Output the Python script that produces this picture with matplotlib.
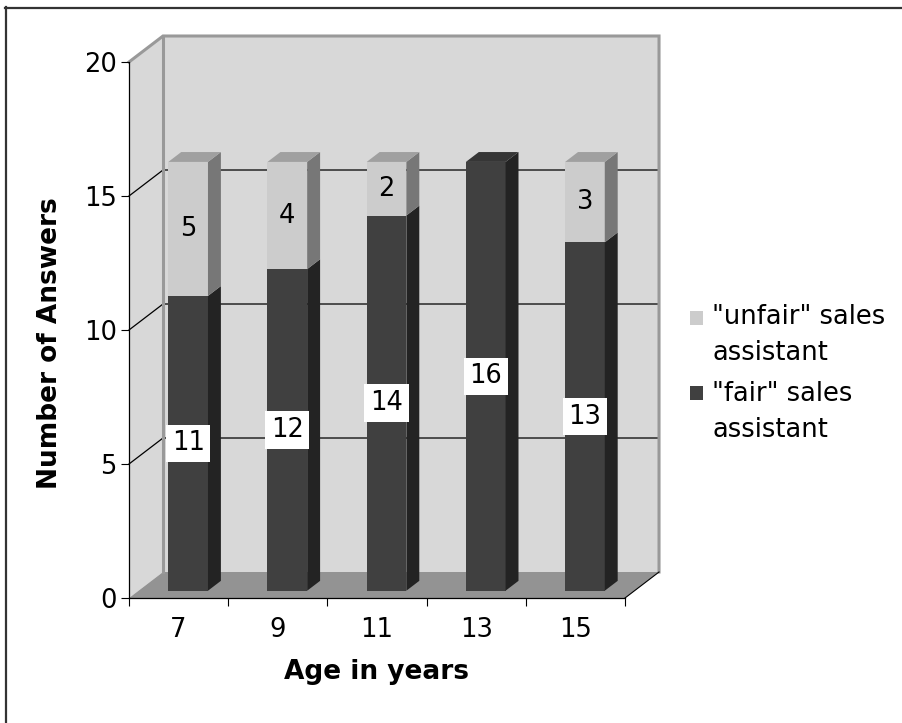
import numpy as np
import matplotlib.pyplot as plt
from matplotlib.patches import Polygon, Rectangle
from matplotlib.lines import Line2D

# answers per age group
ages = ['7', '9', '11', '13', '15']
fair = [11, 12, 14, 16, 13]
unfair = [5, 4, 2, 0, 3]
y_ticks = [0, 5, 10, 15, 20]
series_labels = ['"unfair" sales\nassistant', '"fair" sales\nassistant']

# depth of the 3-D box in data units, bar depth as a fraction of it
DX, DY = 0.343, 0.97
F0, F1 = 0.28, 0.66
HALF = 0.2

WALL = '#d8d8d8'
WALL_EDGE = '#999999'
FLOOR = '#939393'
# front, top, side
FAIR_C = ('#404040', '#363636', '#232323')
UNFAIR_C = ('#cccccc', '#a0a0a0', '#777777')
FS = 18.5

fig = plt.figure(figsize=(9.02, 7.23), dpi=100)
ax = fig.add_axes([129 / 902, 125 / 723, 496 / 902, 536 / 723])
ax.patch.set_visible(False)

n = len(ages)
x = np.arange(n)
x0, x1 = -0.5, n - 0.5
ymax = y_ticks[-1]
ax.set_xlim(x0, x1)
ax.set_ylim(0, ymax)

# walls and floor
back = Polygon([(x0 + DX, DY), (x1 + DX, DY), (x1 + DX, ymax + DY), (x0 + DX, ymax + DY)],
               fc=WALL, ec='none', clip_on=False, zorder=0.5)
side = Polygon([(x0, 0), (x0 + DX, DY), (x0 + DX, ymax + DY), (x0, ymax)],
               fc=WALL, ec='none', clip_on=False, zorder=0.5)
floor = Polygon([(x0, 0), (x1, 0), (x1 + DX, DY), (x0 + DX, DY)],
                fc=FLOOR, ec='none', clip_on=False, zorder=0.6)
for p in (back, side, floor):
    ax.add_patch(p)

# gridlines on side and back wall
for v in y_ticks[1:-1]:
    ax.plot([x0, x0 + DX, x1 + DX], [v, v + DY, v + DY], color='black', lw=0.9,
            clip_on=False, zorder=0.8)

# wall borders
ax.plot([x0, x0 + DX, x1 + DX, x1 + DX], [ymax, ymax + DY, ymax + DY, DY],
        color=WALL_EDGE, lw=2.2, clip_on=False, zorder=0.9, solid_joinstyle='miter')
ax.plot([x0 + DX, x0 + DX], [DY, ymax + DY], color=WALL_EDGE, lw=2.2,
        clip_on=False, zorder=0.9)
ax.plot([x1, x1 + DX], [0, DY], color='black', lw=0.8, clip_on=False, zorder=0.9)

# bars: front faces with ax.bar, sides and tops as polygons
xf = x + F0 * DX
fair = np.array(fair)
unfair = np.array(unfair)
ax.bar(xf, fair, width=2 * HALF, bottom=F0 * DY, color=FAIR_C[0], zorder=3)
ax.bar(xf, unfair, width=2 * HALF, bottom=F0 * DY + fair, color=UNFAIR_C[0], zorder=3)


def side_face(xr, y0, y1, color):
    pts = [(xr + F0 * DX, F0 * DY + y0), (xr + F1 * DX, F1 * DY + y0),
           (xr + F1 * DX, F1 * DY + y1), (xr + F0 * DX, F0 * DY + y1)]
    ax.add_patch(Polygon(pts, fc=color, ec='none', zorder=3))


def top_face(xc, top, color):
    pts = [(xc - HALF + F0 * DX, F0 * DY + top), (xc + HALF + F0 * DX, F0 * DY + top),
           (xc + HALF + F1 * DX, F1 * DY + top), (xc - HALF + F1 * DX, F1 * DY + top)]
    ax.add_patch(Polygon(pts, fc=color, ec='none', zorder=3))


for i in range(n):
    side_face(x[i] + HALF, 0, fair[i], FAIR_C[2])
    if unfair[i] > 0:
        side_face(x[i] + HALF, fair[i], fair[i] + unfair[i], UNFAIR_C[2])
        top_face(x[i], fair[i] + unfair[i], UNFAIR_C[1])
    else:
        top_face(x[i], fair[i], FAIR_C[1])

    ax.text(xf[i], F0 * DY + fair[i] / 2, str(fair[i]), ha='center', va='center',
            fontsize=FS, zorder=5,
            bbox=dict(boxstyle='square,pad=0.22', fc='white', ec='none'))
    if unfair[i] > 0:
        ax.text(xf[i], F0 * DY + fair[i] + unfair[i] / 2, str(unfair[i]),
                ha='center', va='center', fontsize=FS, zorder=5)

# axes, ticks and titles
for s in ('top', 'right'):
    ax.spines[s].set_visible(False)
for s in ('left', 'bottom'):
    ax.spines[s].set_linewidth(0.9)
    ax.spines[s].set_zorder(2)

ax.set_yticks(y_ticks)
ax.tick_params(axis='y', direction='out', length=5.8, width=0.8, pad=3, labelsize=FS)
ax.set_xticks(np.arange(n + 1) - 0.5)
ax.set_xticklabels([])
ax.set_xticks(x, minor=True)
ax.set_xticklabels(ages, minor=True)
ax.tick_params(axis='x', which='major', direction='out', length=5.8, width=0.8)
ax.tick_params(axis='x', which='minor', length=0, pad=13.5, labelsize=FS)

ax.set_xlabel('Age in years', fontsize=19, fontweight='bold')
ax.xaxis.set_label_coords(0.5, -0.114)
ax.set_ylabel('Number of Answers', fontsize=19, fontweight='bold')
ax.yaxis.set_label_coords(-0.159, 0.476)
ax.yaxis.label.set_va('center')

# legend: square beside the first line, text anchored on its last baseline
legend_items = [(series_labels[0], UNFAIR_C[0], 318, 360),
                (series_labels[1], FAIR_C[0], 393, 437)]
for label, color, mid, base in legend_items:
    fig.patches.append(Rectangle((690 / 902, 1 - (mid + 7) / 723), 13 / 902, 14 / 723,
                                 transform=fig.transFigure, fc=color, ec='none'))
    fig.text(712 / 902, 1 - base / 723, label, fontsize=FS, va='baseline', ha='left',
             linespacing=1.5)

# outer frame (top and left edges)
fig.add_artist(Line2D([5 / 902, 1], [1 - 7.5 / 723] * 2, color='#333333', lw=1.6))
fig.add_artist(Line2D([6 / 902] * 2, [0, 1 - 7 / 723], color='#333333', lw=1.6))

fig.savefig('out.png', dpi=100)
